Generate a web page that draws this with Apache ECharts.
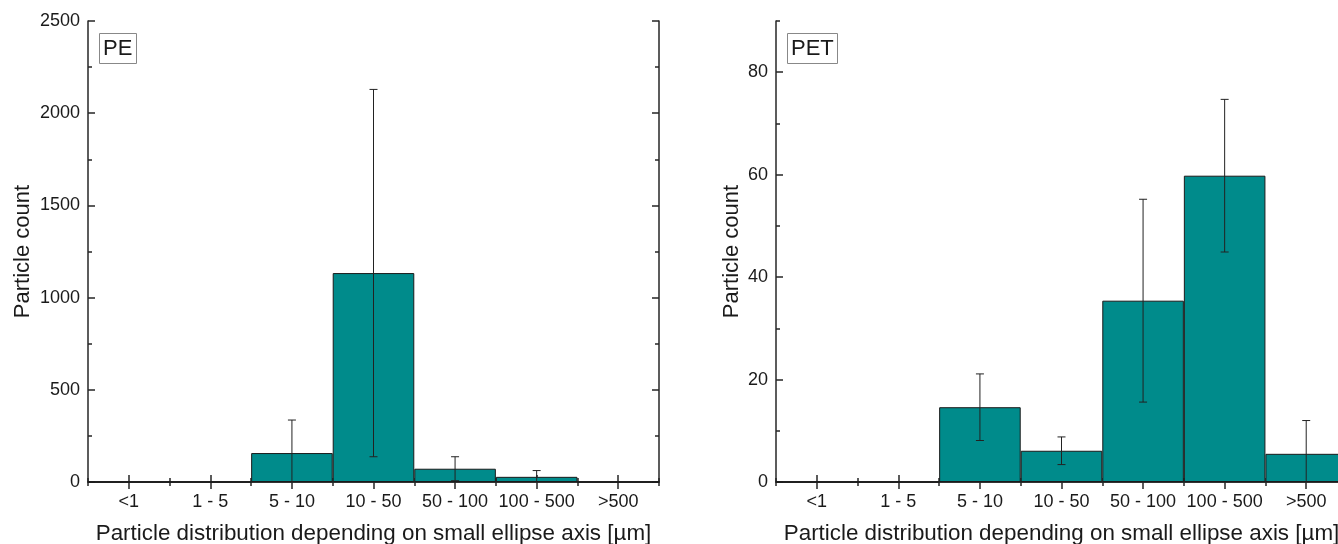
<!DOCTYPE html>
<html>
<head>
<meta charset="utf-8">
<script src="https://cdn.jsdelivr.net/npm/echarts@6/dist/echarts.min.js"></script>
<style>
html,body{margin:0;padding:0;background:#fff;}
#main{width:1338px;height:544px;}
</style>
</head>
<body>
<div id="main"></div>
<script>
const categories = ['<1', '1 - 5', '5 - 10', '10 - 50', '50 - 100', '100 - 500', '>500'];
const peValues = [0, 0, 157, 1133, 72, 28, 0];
const peErrors = [0, 0, 179, 996, 65, 34, 0];
const petValues = [0, 0, 14.6, 6.1, 35.4, 59.8, 5.5];
const petErrors = [0, 0, 6.5, 2.7, 19.8, 14.9, 6.5];
const peYTicks = {min: 0, max: 2500, major: 500, minor: 250};
const petYTicks = {min: 0, max: 90, major: 20, minor: 10};
const xTitle = 'Particle distribution depending on small ellipse axis [µm]';
const yTitle = 'Particle count';

const FONT = "'Liberation Sans', Arial, sans-serif";
const TXT = '#1a1a1a';
const AX = '#262626';
const BAR = '#008B8B';

const grids = [
  {left: 88, top: 21, width: 571, height: 461, outerBoundsMode: 'none', containLabel: false},
  {left: 776, top: 21, width: 571, height: 461, outerBoundsMode: 'none', containLabel: false}
];

function xAxes(gi) {
  const base = {type: 'category', data: categories, gridIndex: gi, boundaryGap: true};
  return [
    Object.assign({}, base, {position: 'bottom',
      axisLine: {show: true, lineStyle: {color: AX, width: 1.5}},
      axisTick: {show: true, inside: true, alignWithLabel: true, length: 7, lineStyle: {color: AX, width: 1.5}},
      axisLabel: {show: true, color: TXT, fontSize: 18, fontFamily: FONT, margin: 11, interval: 0},
      name: xTitle, nameLocation: 'middle', nameGap: 41,
      nameTextStyle: {color: TXT, fontSize: 22.4, fontFamily: FONT}}),
    Object.assign({}, base, {position: 'bottom',
      axisLine: {show: false},
      axisTick: {show: true, inside: true, alignWithLabel: false, length: 4, interval: 0, lineStyle: {color: AX, width: 1.5}},
      axisLabel: {show: false}}),
    Object.assign({}, base, {position: 'top',
      axisLine: {show: true, lineStyle: {color: AX, width: 1.5}},
      axisTick: {show: true, inside: true, alignWithLabel: true, length: 7, lineStyle: {color: AX, width: 1.5}},
      axisLabel: {show: false}}),
    Object.assign({}, base, {position: 'top',
      axisLine: {show: false},
      axisTick: {show: true, inside: true, alignWithLabel: false, length: 4, interval: 0, lineStyle: {color: AX, width: 1.5}},
      axisLabel: {show: false}})
  ];
}

function yAxes(gi, t, nameGap) {
  const base = {type: 'value', gridIndex: gi, min: t.min, max: t.max, splitLine: {show: false}};
  return [
    Object.assign({}, base, {position: 'left', interval: t.major,
      axisLine: {show: true, lineStyle: {color: AX, width: 1.5}},
      axisTick: {show: true, inside: true, length: 7, lineStyle: {color: AX, width: 1.5}},
      axisLabel: {show: true, color: TXT, fontSize: 18, fontFamily: FONT, margin: 8,
        formatter: function (v) { return String(v); },
        showMaxLabel: (t.max % t.major === 0)},
      name: yTitle, nameLocation: 'middle', nameGap: nameGap,
      nameTextStyle: {color: TXT, fontSize: 22, fontFamily: FONT}}),
    Object.assign({}, base, {position: 'left', interval: t.minor,
      axisLine: {show: false},
      axisTick: {show: true, inside: true, length: 4, lineStyle: {color: AX, width: 1.5}},
      axisLabel: {show: false}}),
    Object.assign({}, base, {position: 'right', interval: t.major,
      axisLine: {show: true, lineStyle: {color: AX, width: 1.5}},
      axisTick: {show: true, inside: true, length: 7, lineStyle: {color: AX, width: 1.5}},
      axisLabel: {show: false}}),
    Object.assign({}, base, {position: 'right', interval: t.minor,
      axisLine: {show: false},
      axisTick: {show: true, inside: true, length: 4, lineStyle: {color: AX, width: 1.5}},
      axisLabel: {show: false}})
  ];
}

function barSeries(idx, values) {
  return {
    type: 'bar', xAxisIndex: idx, yAxisIndex: idx, data: values,
    barCategoryGap: '0%',
    itemStyle: {color: BAR, borderColor: '#1a1a1a', borderWidth: 1},
    z: 2
  };
}

function errSeries(idx, values, errors) {
  return {
    type: 'custom', xAxisIndex: idx, yAxisIndex: idx, z: 5,
    data: values.map((v, i) => [i, v, errors[i]]),
    renderItem: function (params, api) {
      const x = api.value(0), v = api.value(1), e = api.value(2);
      if (!e) return null;
      const lo = v - e;
      const top = api.coord([x, v + e]);
      const bot = api.coord([x, Math.max(0, lo)]);
      const w = 4;
      const st = {stroke: '#222', lineWidth: 1};
      const children = [
        {type: 'line', shape: {x1: top[0], y1: top[1], x2: bot[0], y2: bot[1]}, style: st},
        {type: 'line', shape: {x1: top[0] - w, y1: top[1], x2: top[0] + w, y2: top[1]}, style: st}
      ];
      if (lo > 0) {
        children.push({type: 'line', shape: {x1: bot[0] - w, y1: bot[1], x2: bot[0] + w, y2: bot[1]}, style: st});
      }
      return {type: 'group', children: children};
    }
  };
}

const chart = echarts.init(document.getElementById('main'), null, {renderer: 'canvas'});
chart.setOption({
  animation: false,
  backgroundColor: '#fff',
  textStyle: {fontFamily: FONT},
  title: [
    {text: 'PE', left: 99, top: 33, padding: [5, 4, 4, 4], borderColor: '#888', borderWidth: 1,
      textStyle: {fontSize: 22, fontWeight: 'normal', color: TXT, fontFamily: FONT}},
    {text: 'PET', left: 787, top: 33, padding: [5, 4, 4, 4], borderColor: '#888', borderWidth: 1,
      textStyle: {fontSize: 22, fontWeight: 'normal', color: TXT, fontFamily: FONT}}
  ],
  grid: grids,
  xAxis: xAxes(0).concat(xAxes(1)),
  yAxis: yAxes(0, peYTicks, 54).concat(yAxes(1, petYTicks, 33)),
  series: [
    barSeries(0, peValues),
    errSeries(0, peValues, peErrors),
    barSeries(4, petValues),
    errSeries(4, petValues, petErrors)
  ]
});
</script>
</body>
</html>
